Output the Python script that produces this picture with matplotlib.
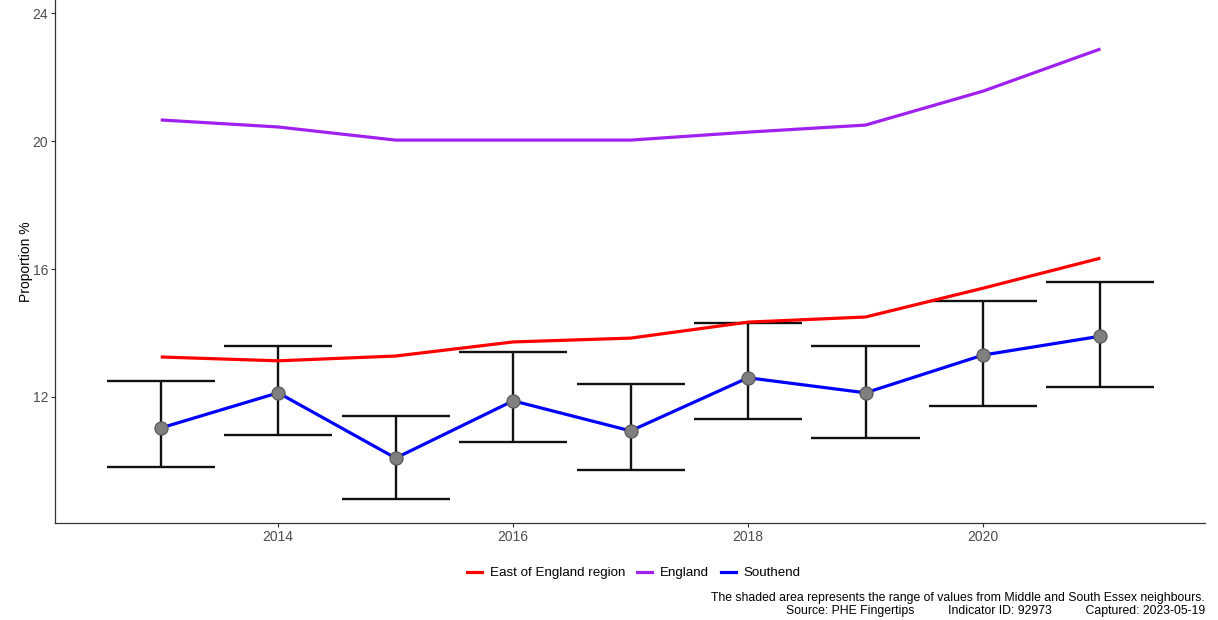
import numpy as np
import matplotlib
matplotlib.use('Agg')
from matplotlib import pyplot as plt
from matplotlib.lines import Line2D

plt.rcParams['font.family'] = ['Liberation Sans', 'DejaVu Sans']

# data
years = [2013, 2014, 2015, 2016, 2017, 2018, 2019, 2020, 2021]
england = [20.66, 20.44, 20.03, 20.03, 20.03, 20.28, 20.50, 21.56, 22.88]
east_of_england = [13.25, 13.13, 13.28, 13.72, 13.84, 14.34, 14.50, 15.40, 16.34]
southend = [11.03, 12.13, 10.09, 11.88, 10.94, 12.60, 12.13, 13.31, 13.90]
southend_upper = [12.50, 13.60, 11.40, 13.40, 12.40, 14.30, 13.60, 15.00, 15.60]
southend_lower = [9.81, 10.81, 8.81, 10.60, 9.72, 11.31, 10.72, 11.72, 12.31]

x_ticks = [2014, 2016, 2018, 2020]
y_ticks = [12, 16, 20, 24]

fig = plt.figure(figsize=(12.18, 6.2), dpi=100)
ax = fig.add_axes([55/1218, 97/620, 1150/1218, 523/620])

# region and England lines
ax.plot(years, east_of_england, color='#ff0000', lw=2.3, zorder=3, solid_capstyle='butt')
ax.plot(years, england, color='#a020f0', lw=2.3, zorder=3, solid_capstyle='butt')

# error bars for Southend
yrs = np.array(years)
lo = np.array(southend_lower)
hi = np.array(southend_upper)
ax.vlines(yrs, lo, hi, color='#111111', lw=1.7, zorder=2)
ax.hlines(lo, yrs - 0.46, yrs + 0.46, color='#111111', lw=1.7, zorder=2)
ax.hlines(hi, yrs - 0.46, yrs + 0.46, color='#111111', lw=1.7, zorder=2)

ax.plot(years, southend, color='#0000ff', lw=2.3, zorder=4)
ax.plot(years, southend, 'o', color='#7f7f7f', mec='#555555', mew=0.8, ms=9.5, zorder=5)

ax.set_xlim(2012.10, 2021.89)
ax.set_ylim(8.06, 24.41)
ax.set_xticks(x_ticks)
ax.set_yticks(y_ticks)
ax.tick_params(colors='#333333', labelcolor='#4d4d4d', labelsize=10, length=3, width=0.8, pad=2)
for s in ['top', 'right']:
    ax.spines[s].set_visible(False)
for s in ['left', 'bottom']:
    ax.spines[s].set_color('#333333')
    ax.spines[s].set_linewidth(0.9)
ax.set_ylabel('Proportion %', fontsize=10, color='black', va='center')
ax.yaxis.set_label_coords(-0.025, 0.5)

handles = [Line2D([], [], color='#ff0000', lw=2.3),
           Line2D([], [], color='#a020f0', lw=2.3),
           Line2D([], [], color='#0000ff', lw=2.3)]
labels = ['East of England region', 'England', 'Southend']
fig.legend(handles, labels, loc='center', bbox_to_anchor=(634/1218, 1 - 573/620),
           ncol=3, frameon=False, fontsize=9.6, handlelength=1.1, handletextpad=0.6,
           columnspacing=0.9)

fig.text(1205/1218, 1 - 598/620,
         'The shaded area represents the range of values from Middle and South Essex neighbours.',
         ha='right', va='center', fontsize=8.85)
fig.text(1205/1218, 1 - 611/620,
         'Source: PHE Fingertips          Indicator ID: 92973          Captured: 2023-05-19',
         ha='right', va='center', fontsize=8.85)

fig.savefig('out.png', dpi=100)
